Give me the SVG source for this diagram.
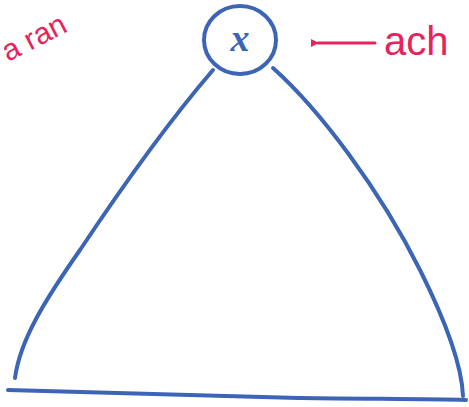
<svg xmlns="http://www.w3.org/2000/svg" width="469" height="407" viewBox="0 0 469 407">
<style>
.blue{fill:none;stroke:#3c65b5;stroke-width:4;stroke-linecap:round;stroke-linejoin:round}
.red{fill:none;stroke:#e5245c;stroke-width:3;stroke-linecap:round}
.rt{fill:#e5245c;font-family:"Liberation Sans",sans-serif}
.bt{fill:#3c65b5;font-family:"Liberation Serif",serif;font-style:italic;font-weight:bold}
</style>
<defs>
<marker id="ah" markerWidth="10" markerHeight="10" refX="2" refY="5" orient="auto" markerUnits="userSpaceOnUse">
<path d="M9,1 L1,5 L9,9 Z" fill="#e5245c"/>
</marker>
</defs>
<rect width="469" height="407" fill="#fff"/>
<g id="node-x">
<ellipse class="blue" cx="240" cy="40" rx="36" ry="34"/>
<text class="bt" x="240" y="51" font-size="38" text-anchor="middle">x</text>
</g>
<g id="label-ran">
<text class="rt" x="8" y="62" font-size="30" transform="rotate(-27 8 62)">a ran</text>
</g>
<g id="label-ach">
<text class="rt" x="384" y="55" font-size="40">ach</text>
</g>
<g id="connectors">
<path class="blue" d="M213,70 C170,120 120,190 80,250 C45,300 20,340 15,378"/>
<path class="blue" d="M273,68 C320,110 380,190 420,270 C450,330 462,370 463,396"/>
<path class="blue" d="M8,390 C100,392 200,396 300,398 C380,399 430,399 466,400"/>
<path class="red" d="M375,43 L318,43" marker-end="url(#ah)"/>
</g>
</svg>
